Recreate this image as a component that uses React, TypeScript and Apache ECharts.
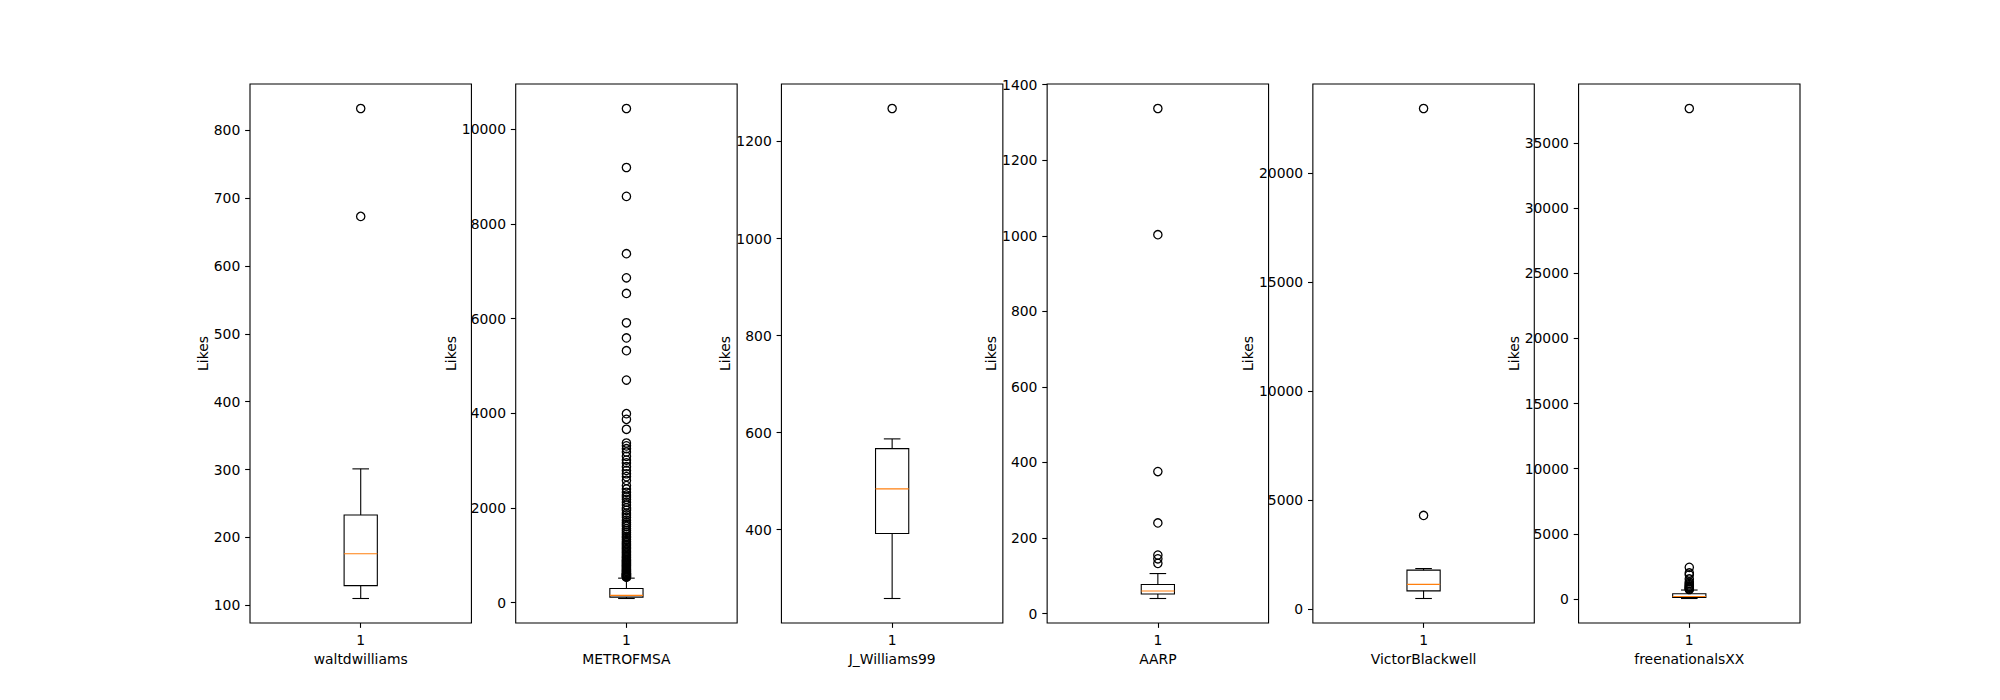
import React, { useEffect, useRef } from "react";
import * as echarts from "echarts";

// ---- data ----
const accounts = ["waltdwilliams", "METROFMSA", "J_Williams99", "AARP", "VictorBlackwell", "freenationalsXX"];

// [lower whisker, Q1, median, Q3, upper whisker]
const statsWalt = [110, 129, 176, 233, 301];
const statsMetro = [85, 115, 150, 295, 515];
const statsJW = [258, 392, 484, 567, 587];
const statsAARP = [40, 52, 60, 77, 106];
const statsVictor = [490, 840, 1140, 1790, 1864];
const statsFree = [30, 120, 180, 390, 680];

const fliersWalt = [832, 673];
const fliersMetro = [
  10437, 9190, 8580, 7370, 6860, 6530, 5910, 5590, 5320, 4700, 3990, 3870, 3660, 3370, 3310, 3250,
  3180, 3090, 3010, 2950, 2870, 2790, 2720, 2660, 2580, 2470, 2400, 2330, 2270, 2230, 2180, 2120,
  2060, 2000, 1950, 1890, 1850, 1800, 1740, 1690, 1650, 1610, 1560, 1520, 1480, 1440, 1400, 1370,
  1330, 1290, 1260, 1230, 1200, 1170, 1140, 1110, 1080, 1050, 1020, 990, 960, 940, 910, 890, 870,
  850, 830, 810, 790, 770, 750, 730, 710, 690, 670, 660, 640, 620, 610, 600, 590, 580, 570, 560,
  550, 540, 535,
];
const fliersJW = [1268];
const fliersAARP = [1337, 1003, 376, 240, 155, 145, 133];
const fliersVictor = [22970, 4300];
const fliersFree = [37650, 2420, 1990, 1850, 1530, 1300, 1180, 1090, 1000, 940, 880, 820, 760, 720];

const ticksWalt = [100, 200, 300, 400, 500, 600, 700, 800];
const ticksMetro = [0, 2000, 4000, 6000, 8000, 10000];
const ticksJW = [400, 600, 800, 1000, 1200];
const ticksAARP = [0, 200, 400, 600, 800, 1000, 1200, 1400];
const ticksVictor = [0, 5000, 10000, 15000, 20000];
const ticksFree = [0, 5000, 10000, 15000, 20000, 25000, 30000, 35000];

const xTickLabels = ["1"];
const yName = "Likes";

const panels = [
  { name: accounts[0], stats: statsWalt, fliers: fliersWalt, ticks: ticksWalt },
  { name: accounts[1], stats: statsMetro, fliers: fliersMetro, ticks: ticksMetro },
  { name: accounts[2], stats: statsJW, fliers: fliersJW, ticks: ticksJW },
  { name: accounts[3], stats: statsAARP, fliers: fliersAARP, ticks: ticksAARP },
  { name: accounts[4], stats: statsVictor, fliers: fliersVictor, ticks: ticksVictor },
  { name: accounts[5], stats: statsFree, fliers: fliersFree, ticks: ticksFree },
];

const FONT = "DejaVu Sans";
const FS = 13.9;
const TICK_LEN = 4.86;
const LABEL_MARGIN = 9.7;
const LW = 1.1;

export default function App() {
  const ref = useRef<HTMLDivElement>(null);

  useEffect(() => {
    if (!ref.current) return;
    const chart = echarts.init(ref.current, undefined, { renderer: "svg" });

    const W = 2000;
    const left0 = 0.125 * W;
    const axW = (0.775 * W) / (6 + 5 * 0.2);
    const gap = axW * 0.2;
    const top = 84;
    const height = 539;

    const grids: any[] = [];
    const xAxes: any[] = [];
    const yAxes: any[] = [];
    const series: any[] = [];

    panels.forEach((p, i) => {
      const all = [...p.stats, ...p.fliers];
      const lo = Math.min(...all);
      const hi = Math.max(...all);
      const r = hi - lo;
      const ymin = lo - 0.05 * r;
      const ymax = hi + 0.05 * r;
      const maxChars = Math.max(...p.ticks.map((t) => String(t).length));

      grids.push({
        left: left0 + i * (axW + gap),
        top,
        width: axW,
        height,
        show: true,
        borderColor: "#000",
        borderWidth: LW,
        backgroundColor: "transparent",
        containLabel: false,
        outerBoundsMode: "none",
      });

      xAxes.push({
        gridIndex: i,
        type: "category",
        data: xTickLabels,
        boundaryGap: true,
        position: "bottom",
        axisLine: { show: false, onZero: false },
        axisTick: { show: true, alignWithLabel: true, length: TICK_LEN, lineStyle: { color: "#000", width: LW } },
        axisLabel: { margin: LABEL_MARGIN, color: "#000", fontSize: FS, fontFamily: FONT },
        splitLine: { show: false },
        name: p.name,
        nameLocation: "middle",
        nameGap: 27,
        nameTextStyle: { color: "#000", fontSize: FS, fontFamily: FONT },
      });

      yAxes.push({
        gridIndex: i,
        type: "value",
        min: ymin,
        max: ymax,
        position: "left",
        axisLine: { show: false, onZero: false },
        axisTick: {
          show: true,
          length: TICK_LEN,
          lineStyle: { color: "#000", width: LW },
          customValues: p.ticks,
        },
        axisLabel: {
          margin: LABEL_MARGIN,
          color: "#000",
          fontSize: FS,
          fontFamily: FONT,
          customValues: p.ticks,
          formatter: (v: number) => String(Math.round(v)),
          showMinLabel: true,
          showMaxLabel: true,
          hideOverlap: false,
        },
        splitLine: { show: false },
        name: yName,
        nameLocation: "middle",
        nameRotate: 90,
        nameGap: LABEL_MARGIN + maxChars * 8.84 + 4,
        nameTextStyle: { color: "#000", fontSize: FS, fontFamily: FONT },
      });

      series.push({
        type: "custom",
        xAxisIndex: i,
        yAxisIndex: i,
        data: [[0, ...p.stats]],
        encode: { x: 0, y: [1, 2, 3, 4, 5] },
        clip: false,
        renderItem: (params: any, api: any) => {
          const x = api.coord([0, api.value(1)])[0];
          const bw = api.size([1, 0])[0] * 0.15;
          const hw = bw / 2;
          const cw = bw / 4;
          const y = (k: number) => api.coord([0, api.value(k)])[1];
          const yLo = y(1), yQ1 = y(2), yMed = y(3), yQ3 = y(4), yHi = y(5);
          const st = { stroke: "#000", lineWidth: LW, fill: null };
          return {
            type: "group",
            children: [
              { type: "line", shape: { x1: x, y1: yQ1, x2: x, y2: yLo }, style: st },
              { type: "line", shape: { x1: x, y1: yQ3, x2: x, y2: yHi }, style: st },
              { type: "line", shape: { x1: x - cw, y1: yLo, x2: x + cw, y2: yLo }, style: st },
              { type: "line", shape: { x1: x - cw, y1: yHi, x2: x + cw, y2: yHi }, style: st },
              {
                type: "rect",
                shape: { x: x - hw, y: yQ3, width: bw, height: yQ1 - yQ3 },
                style: { stroke: "#000", lineWidth: LW, fill: "none" },
              },
              {
                type: "line",
                shape: { x1: x - hw, y1: yMed, x2: x + hw, y2: yMed },
                style: { stroke: "#ff7f0e", lineWidth: LW },
              },
            ],
          };
        },
      });

      series.push({
        type: "scatter",
        xAxisIndex: i,
        yAxisIndex: i,
        data: p.fliers.map((v) => [0, v]),
        symbol: "circle",
        symbolSize: 8.3,
        itemStyle: { color: "transparent", borderColor: "#000", borderWidth: 1.3, opacity: 1 },
        emphasis: { disabled: true },
        z: 3,
      });
    });

    chart.setOption({
      animation: false,
      backgroundColor: "#fff",
      textStyle: { fontFamily: FONT },
      grid: grids,
      xAxis: xAxes,
      yAxis: yAxes,
      series,
    });

    return () => chart.dispose();
  }, []);

  return (
    <div
      ref={ref}
      style={{ position: "fixed", left: 0, top: 0, width: 2000, height: 700, background: "#fff" }}
    />
  );
}
